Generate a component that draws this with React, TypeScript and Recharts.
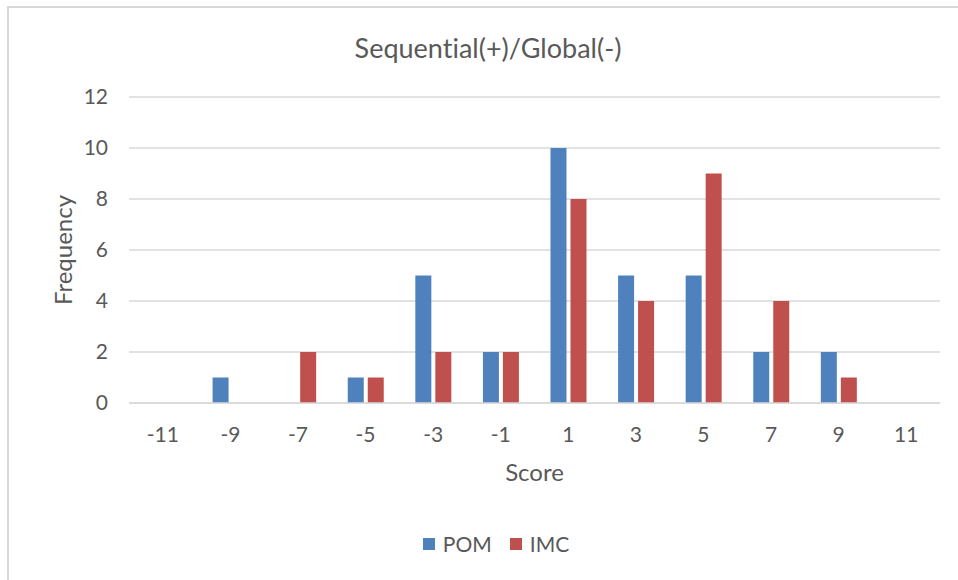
import React from 'react';
import { BarChart, Bar, XAxis, YAxis, CartesianGrid, Legend, Label } from 'recharts';

const scores = ['-11', '-9', '-7', '-5', '-3', '-1', '1', '3', '5', '7', '9', '11'];
const pomValues = [0, 1, 0, 1, 5, 2, 10, 5, 5, 2, 2, 0];
const imcValues = [0, 0, 2, 1, 2, 2, 8, 4, 9, 4, 1, 0];
const yTicks = [0, 2, 4, 6, 8, 10, 12];
const seriesNames = ['POM', 'IMC'];
const seriesColors = ['#4F81BD', '#C0504D'];

const data = scores.map((s, i) => ({ score: s, POM: pomValues[i], IMC: imcValues[i] }));

const FONT = 'Lato, "Open Sans", sans-serif';
const TEXT = '#595959';

const LegendContent = () => (
  <div style={{ display: 'flex', justifyContent: 'center', alignItems: 'center', fontFamily: FONT, fontSize: 21, color: TEXT }}>
    {seriesNames.map((n, i) => (
      <div key={n} style={{ display: 'flex', alignItems: 'center', marginRight: i === 0 ? 18 : 0 }}>
        <div style={{ width: 12, height: 12, background: seriesColors[i], marginRight: 8 }} />
        <span>{n}</span>
      </div>
    ))}
  </div>
);

export default function App() {
  return (
    <div style={{ position: 'absolute', left: 0, top: 0, width: 958, height: 580, background: '#fff', overflow: 'hidden', fontVariantLigatures: 'none' }}>
      <div style={{ position: 'absolute', left: 7, top: 6, width: 980, height: 600, borderTop: '2px solid #d9d9d9', borderLeft: '2px solid #d9d9d9', boxSizing: 'border-box' }} />
      <div style={{ position: 'absolute', left: 0, top: 34, width: 976, textAlign: 'center', fontFamily: FONT, fontSize: 27, lineHeight: '27px', color: TEXT, fontVariantLigatures: 'none' }}>
        Sequential(+)/Global(-)
      </div>
      <div style={{ position: 'absolute', left: 0, top: 0 }}>
        <BarChart width={958} height={580} data={data} margin={{ top: 97, right: 18, bottom: 72, left: 0 }} barSize={16} barGap={4}>
          <CartesianGrid vertical={false} stroke="#d9d9d9" strokeWidth={1.5} />
          <XAxis
            dataKey="score"
            tickLine={false}
            axisLine={{ stroke: '#d9d9d9', strokeWidth: 1.5 }}
            tickSize={0}
            tickMargin={24}
            height={80}
            interval={0}
            tick={{ fill: TEXT, fontSize: 21, fontFamily: FONT }}
          >
            <Label
              content={({ viewBox }: any) => (
                <text x={viewBox.x + viewBox.width / 2} y={viewBox.y + 78} textAnchor="middle" fill={TEXT} fontSize={24} fontFamily={FONT}>
                  Score
                </text>
              )}
            />
          </XAxis>
          <YAxis
            width={129}
            domain={[0, 12]}
            ticks={yTicks}
            tickLine={false}
            axisLine={false}
            tickSize={0}
            tickMargin={21}
            tick={{ fill: TEXT, fontSize: 21, fontFamily: FONT }}
          >
            <Label
              content={({ viewBox }: any) => {
                const cx = 62;
                const cy = viewBox.y + viewBox.height / 2;
                return (
                  <text x={cx} y={cy} transform={`rotate(-90 ${cx} ${cy})`} textAnchor="middle" dominantBaseline="central" fill={TEXT} fontSize={24} fontFamily={FONT}>
                    Frequency
                  </text>
                );
              }}
            />
          </YAxis>
          <Legend content={<LegendContent />} wrapperStyle={{ position: 'absolute', top: 531, left: 0, width: 992 }} />
          <Bar dataKey="POM" name="POM" fill={seriesColors[0]} isAnimationActive={false} />
          <Bar dataKey="IMC" name="IMC" fill={seriesColors[1]} isAnimationActive={false} />
        </BarChart>
      </div>
    </div>
  );
}
